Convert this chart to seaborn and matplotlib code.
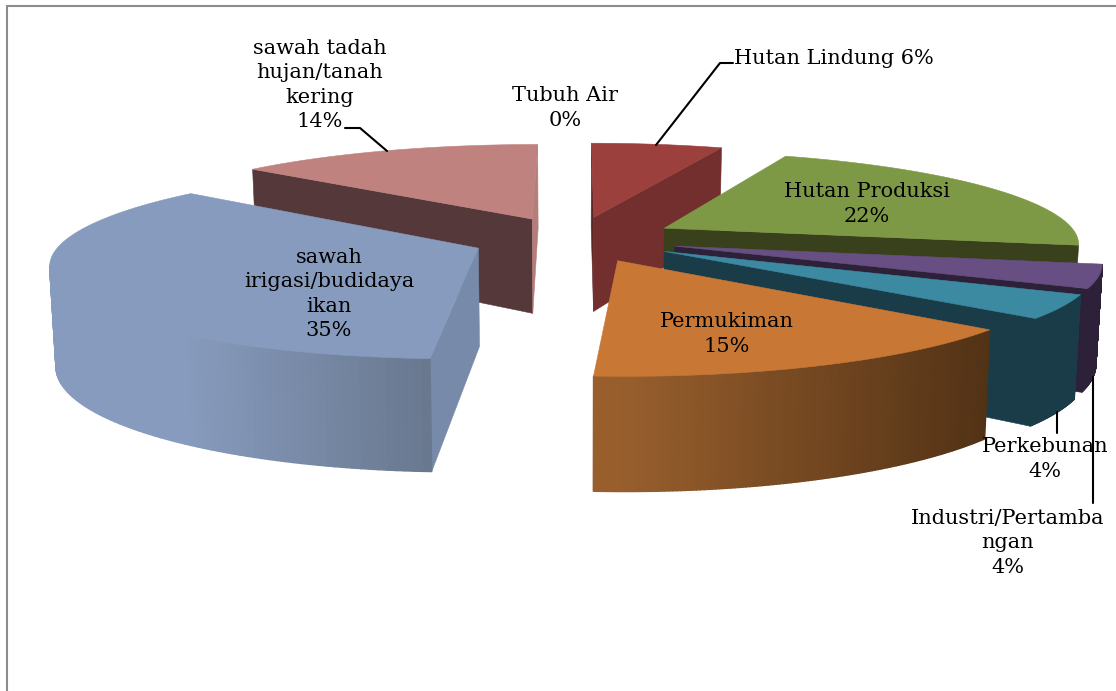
import numpy as np
import matplotlib
matplotlib.use("Agg")
import matplotlib.pyplot as plt
import seaborn as sns

# ---- data -------------------------------------------------------------
categories = ["Hutan Lindung", "Hutan Produksi", "Industri/Pertambangan", "Perkebunan",
              "Permukiman", "sawah irigasi/budidaya ikan", "sawah tadah hujan/tanah kering",
              "Tubuh Air"]
values = [6, 22, 4, 4, 15, 35, 14, 0]
label_texts = ["Hutan Lindung 6%", "Hutan Produksi\n22%", "Industri/Pertamba\nngan\n4%",
               "Perkebunan\n4%", "Permukiman\n15%", "sawah\nirigasi/budidaya\nikan\n35%",
               "sawah tadah\nhujan/tanah\nkering\n14%", "Tubuh Air\n0%"]

# ---- styles -----------------------------------------------------------
top_colors = ["#9C403E", "#7D9946", "#674F83", "#3C8AA2", "#C87834", "#879BBE", "#C0827F", "#888888"]
start_wall = ["#5E2625", "#39401C", "#2C2138", "#1A3C49", "#5A3515", "#788AAA", "#55393A", "#888888"]
end_wall = ["#732E2E", "#39401C", "#2C2138", "#1A3C49", "#5A3515", "#788AAA", "#B47D7A", "#888888"]
arc_light = ["#732E2E", "#39401C", "#2C2138", "#1A3C49", "#985F2D", "#879BBE", "#55393A", "#888888"]
arc_dark = ["#732E2E", "#39401C", "#2C2138", "#1A3C49", "#523216", "#69788F", "#55393A", "#888888"]
arc_hold = [0, 0, 0, 0, 0.05, 0.35, 0, 0]   # share of the rim that stays at the light shade
draw_order = [0, 6, 1, 2, 3, 5, 4]
label_pos = [(734, 58, "left"), (867, 204, "center"), (1008, 543, "center"), (1045, 459, "center"),
             (727, 334, "center"), (329, 294, "center"), (320, 85, "center"), (565, 108, "center")]

# projection of the pie plane
CX, CY, W, VY, D, EXPLODE = 575.0, 239.0, 415.0, -372.0, 6.7, 0.25
A = CY - VY


def scale(Y):
    return D / (D + Y)


def top_xy(X, Y):
    s = scale(Y)
    return CX + W * X * s, VY + A * s


def bot_xy(X, Y):
    s = scale(Y)
    return CX + 0.988 * W * X * s, VY + A * s + 97.0 * s ** 0.85


def facing(X, Y, nx, ny):
    return (0 - X) * nx + (-D - Y) * ny > 0


sns.set_theme(style="white")
plt.rcParams["font.family"] = ["DejaVu Serif"]
fig = plt.figure(figsize=(11.16, 6.91), dpi=100, facecolor="white")
ax = fig.add_axes([0, 0, 1, 1])
ax.set_xlim(0, 1116)
ax.set_ylim(691, 0)
ax.axis("off")

ax.plot([7, 7, 1120], [695, 5.5, 5.5], color="#8C8C8C", lw=1.5, solid_joinstyle="miter")

total = float(sum(values))
edges = np.concatenate([[0], np.cumsum(values)]) / total * 2 * np.pi


def quad(p0, p1, color, z, lw=0.4):
    a = top_xy(*p0); b = top_xy(*p1); c = bot_xy(*p1); d = bot_xy(*p0)
    ax.fill([a[0], b[0], c[0], d[0]], [a[1], b[1], c[1], d[1]], color=color, lw=lw, zorder=z)


for rank, i in enumerate(draw_order):
    a0, a1 = edges[i], edges[i + 1]
    mid = (a0 + a1) / 2
    X0, Y0 = EXPLODE * np.sin(mid), EXPLODE * np.cos(mid)
    t = np.linspace(a0, a1, 120)
    AX, AY = X0 + np.sin(t), Y0 + np.cos(t)
    z = 10 + rank

    # radial faces
    if facing(X0, Y0, -np.cos(a0), np.sin(a0)):
        quad((X0, Y0), (AX[0], AY[0]), start_wall[i], z)
    if facing(X0, Y0, np.cos(a1), -np.sin(a1)):
        quad((X0, Y0), (AX[-1], AY[-1]), end_wall[i], z)

    # outer rim, shaded left to right on screen
    shades = sns.blend_palette([arc_light[i], arc_dark[i]], 64)
    vis = [j for j in range(len(t) - 1) if facing(AX[j], AY[j], np.sin(t[j]), np.cos(t[j]))]
    if vis:
        xs = [top_xy(AX[j], AY[j])[0] for j in vis]
        xmin, xmax = min(xs), max(xs)
        for j in vis:
            f = (top_xy(AX[j], AY[j])[0] - xmin) / max(xmax - xmin, 1)
            f = max(0.0, (f - arc_hold[i]) / (1 - arc_hold[i]))
            quad((AX[j], AY[j]), (AX[j + 1], AY[j + 1]), shades[int(f * 63)], z, lw=1.0)

    # top face
    px, py = top_xy(np.r_[X0, AX], np.r_[Y0, AY])
    ax.fill(px, py, color=top_colors[i], lw=0.4, zorder=z)

# leader lines
leaders = [([656, 720, 733], [145, 63, 63]), ([345, 360, 387], [128, 128, 151]),
           ([1057, 1057], [412, 433]), ([1093, 1093], [377, 503])]
for lx, ly in leaders:
    ax.plot(lx, ly, color="black", lw=1.5, zorder=40)

for txt, (x, y, ha) in zip(label_texts, label_pos):
    ax.text(x, y, txt, ha=ha, va="center", ma="center" if ha == "center" else "left",
            fontsize=15, color="black", linespacing=1.36, zorder=50)

fig.savefig("out.png", dpi=100, facecolor="white")
